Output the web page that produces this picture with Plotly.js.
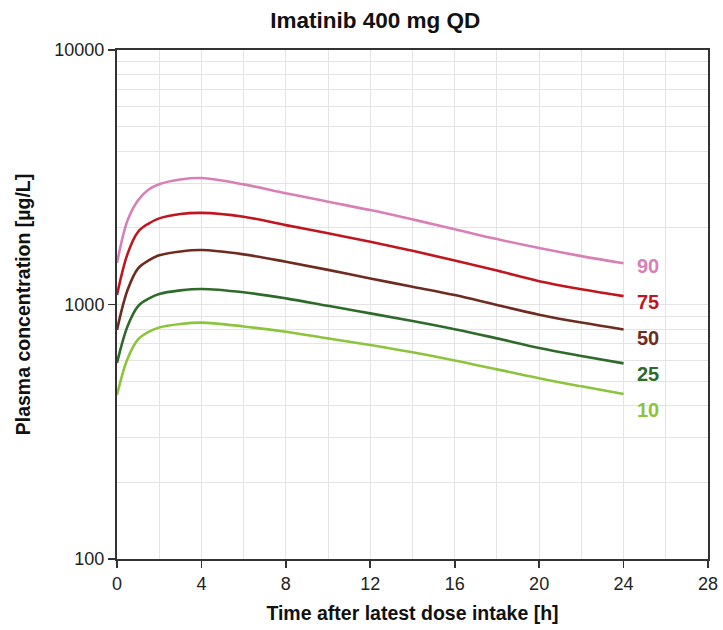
<!DOCTYPE html>
<html>
<head>
<meta charset="utf-8">
<script src="https://cdn.plot.ly/plotly-3.0.1.min.js"></script>
<style>html,body{margin:0;padding:0;background:#fff;}#chart{width:723px;height:630px;}</style>
</head>
<body>
<div id="chart"></div>
<script>
// Time after latest dose intake [h]
var hours = [0, 0.5, 1, 1.5, 2, 3, 4, 6, 8, 10, 12, 14, 16, 18, 20, 22, 24];
// Percentiles of plasma concentration [µg/L]
var p90 = [1455, 2140, 2570, 2830, 2970, 3100, 3140, 2965, 2735, 2535, 2350, 2160, 1977, 1807, 1667, 1549, 1452];
var p75 = [1089, 1581, 1932, 2080, 2180, 2268, 2291, 2213, 2051, 1905, 1765, 1625, 1490, 1360, 1235, 1148, 1079];
var p50 = [794, 1140, 1387, 1490, 1560, 1615, 1637, 1574, 1472, 1368, 1265, 1175, 1089, 995, 912, 849, 798];
var p25 = [589, 822, 986, 1055, 1100, 1136, 1151, 1117, 1057, 988, 923, 861, 800, 736, 675, 628, 587];
var p10 = [441, 612, 729, 780, 812, 838, 849, 820, 782, 736, 693, 649, 603, 556, 513, 477, 445];
var seriesLabels = ['90', '75', '50', '25', '10'];
var xTickVals = [0, 4, 8, 12, 16, 20, 24, 28];
var yTickVals = [100, 1000, 10000];

var seriesData = [p90, p75, p50, p25, p10];
var colors = ['#d97fb8', '#c0161e', '#6e2b20', '#2e6b2a', '#8cc43e'];
var labelY = [1416, 1023, 738, 533, 385];
var FONT = 'Liberation Sans, Arial, Helvetica, sans-serif';

var traces = seriesData.map(function (vals, i) {
  return {
    x: hours, y: vals, type: 'scatter', mode: 'lines',
    line: {color: colors[i], width: 2.6, shape: 'spline', smoothing: 1},
    name: seriesLabels[i], showlegend: false, hoverinfo: 'skip'
  };
});

var annotations = seriesLabels.map(function (lab, i) {
  return {
    x: 25.16, y: Math.log10(labelY[i]), xref: 'x', yref: 'y',
    text: '<b>' + lab + '</b>', showarrow: false,
    font: {family: FONT, size: 20, color: colors[i]},
    xanchor: 'center', yanchor: 'middle'
  };
});

var layout = {
  width: 723, height: 630,
  margin: {l: 117, r: 15, t: 50, b: 71},
  paper_bgcolor: '#fff', plot_bgcolor: '#fff',
  font: {family: FONT, color: '#222', size: 18},
  title: {
    text: '<b>Imatinib 400 mg QD</b>',
    font: {family: FONT, size: 22.5, color: '#111'},
    x: 0.437, xref: 'paper', xanchor: 'center', y: 0.968, yref: 'container', yanchor: 'middle'
  },
  xaxis: {
    range: [0, 28], tickvals: xTickVals, ticktext: xTickVals.map(String),
    ticks: 'outside', ticklen: 7, tickwidth: 1.6, tickcolor: '#333',
    showline: true, linecolor: '#333', linewidth: 2, mirror: true,
    showgrid: true, gridcolor: '#e4e4e4', gridwidth: 1, zeroline: false,
    minor: {dtick: 2, showgrid: true, gridcolor: '#e4e4e4', gridwidth: 1, ticks: ''},
    tickfont: {family: FONT, size: 18, color: '#222'},
    title: {text: '<b>Time after latest dose intake [h]</b>', font: {family: FONT, size: 19.5, color: '#111'}, standoff: 14}
  },
  yaxis: {
    type: 'log', range: [2, 4], tickvals: yTickVals, ticktext: yTickVals.map(String),
    ticks: 'outside', ticklen: 7, tickwidth: 1.6, tickcolor: '#333',
    showline: true, linecolor: '#333', linewidth: 2, mirror: true,
    showgrid: true, gridcolor: '#e4e4e4', zeroline: false,
    minor: {dtick: 'D1', showgrid: true, gridcolor: '#e4e4e4', gridwidth: 1, ticks: ''},
    tickfont: {family: FONT, size: 18, color: '#222'},
    title: {text: '<b>Plasma concentration [µg/L]</b>', font: {family: FONT, size: 19.5, color: '#111'}, standoff: 19}
  },
  annotations: annotations
};

Plotly.newPlot('chart', traces, layout, {staticPlot: true, displayModeBar: false});
</script>
</body>
</html>
